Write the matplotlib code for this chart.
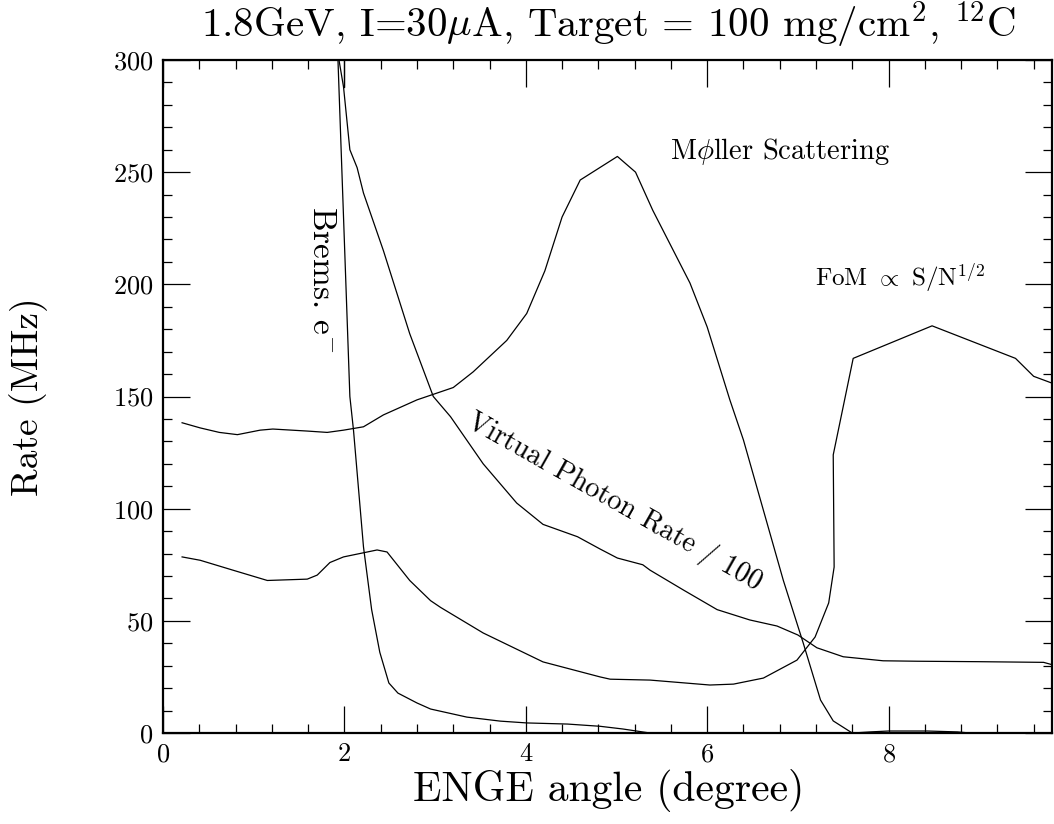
import matplotlib
matplotlib.use("Agg")
import matplotlib.pyplot as plt

# Rates vs ENGE angle
brems_x = [1.92, 2.06, 2.10, 2.21, 2.30, 2.39, 2.49, 2.59, 2.80, 2.95, 3.35, 3.72,
           4.01, 4.46, 4.82, 5.07, 5.37, 6.0, 7.0, 8.0, 9.0, 9.8]
brems_y = [310, 150, 135, 83, 55, 36, 22.3, 17.8, 13.4, 10.7, 7.1, 5.3,
           4.5, 4.0, 3.0, 1.8, 0, 0, 0, 0, 0, 0]

vphoton_x = [1.94, 1.99, 2.06, 2.14, 2.21, 2.43, 2.72, 2.98, 3.17, 3.53, 3.90, 4.19,
             4.57, 4.82, 5.01, 5.29, 5.37, 5.74, 6.11, 6.47, 6.77, 7.00, 7.21,
             7.50, 7.94, 8.32, 9.00, 9.71, 9.80]
vphoton_y = [300, 288, 260, 252, 240.7, 215, 178, 150, 141, 120, 102.5, 93,
             87.5, 82, 78, 75, 72.6, 63.7, 55, 50.4, 47.7, 43.7, 38,
             34, 32.2, 32, 31.8, 31.5, 30.5]
spike_x = [1.99, 1.99]
spike_y = [288, 310]

moller_x = [0.21, 0.41, 0.62, 0.82, 1.07, 1.21, 1.59, 1.81, 1.99, 2.21, 2.43, 2.80,
            3.20, 3.42, 3.79, 4.01, 4.21, 4.40, 4.60, 5.01, 5.21, 5.40, 5.81, 6.00,
            6.25, 6.40, 6.84, 7.06, 7.25, 7.39, 7.60, 7.80, 8.00, 8.43, 8.76, 8.90, 9.80]
moller_y = [138.3, 136, 134, 133, 135, 135.5, 134.6, 134, 135, 136.5, 141.8, 148.5,
            154, 161, 175, 187, 206, 230, 246.5, 257, 250, 233, 200.6, 181,
            148.5, 130.6, 68, 40, 14.7, 5.4, 0, 0.5, 0.9, 0.9, 0.5, 0, 0]

fom_x = [0.21, 0.41, 0.77, 1.15, 1.59, 1.70, 1.84, 1.99, 2.36, 2.47, 2.72, 2.95, 3.06,
         3.53, 4.19, 4.82, 4.93, 5.37, 6.03, 6.29, 6.62, 6.99, 7.19, 7.34, 7.40,
         7.39, 7.61, 8.48, 9.40, 9.60, 9.80]
fom_y = [78.5, 77, 72.6, 68, 68.6, 70.4, 76, 78.5, 81.6, 80.7, 68, 59, 56,
         44.6, 31.7, 25, 24, 23.6, 21.4, 21.8, 24.5, 32.5, 42.8, 58, 74,
         124, 167, 181.5, 167, 159, 156]

plt.rcParams["font.family"] = ["cmr10", "DejaVu Serif"]
plt.rcParams["mathtext.fontset"] = "cm"
plt.rcParams["axes.formatter.use_mathtext"] = True

fig = plt.figure(figsize=(10.54, 8.24), dpi=100)
ax = fig.add_axes([0.1547, 0.1104, 0.8432, 0.8168])

lw = 0.9
for xs, ys in [(brems_x, brems_y), (vphoton_x, vphoton_y), (spike_x, spike_y),
               (moller_x, moller_y), (fom_x, fom_y)]:
    ax.plot(xs, ys, color="black", lw=lw)

ax.set_xlim(0, 9.8)
ax.set_ylim(0, 300)
ax.set_xticks([0, 2, 4, 6, 8])
ax.set_xticks([i * 0.4 for i in range(25)], minor=True)
ax.set_yticks(range(0, 301, 50))
ax.set_yticks(range(0, 301, 10), minor=True)
ax.tick_params(which="both", direction="in", top=True, right=True, width=0.9,
               labelsize=19)
ax.tick_params(which="major", length=19.5, pad=7)
ax.tick_params(which="minor", length=6.5)
for s in ax.spines.values():
    s.set_linewidth(1.6)

# annotations
ax.text(6.8, 259, r"M$\phi$ller Scattering", fontsize=20.5, ha="center", va="center")
ax.text(8.13, 203, r"FoM $\propto$ S/N$^{1/2}$", fontsize=18, ha="center", va="center")
ax.text(4.98, 103, "Virtual Photon Rate / 100", fontsize=20.5, rotation=-29.5,
        ha="center", va="center", rotation_mode="anchor")
ax.text(1.75, 202, r"Brems. e$^{-}$", fontsize=24, rotation=-90,
        ha="center", va="center")

fig.text(608 / 1054, 1 - 25 / 824,
         r"1.8GeV, I=30$\mu$A, Target = 100 mg/cm$^2$, $^{12}$C",
         fontsize=29.5, ha="center", va="center")
fig.text(609 / 1054, 1 - 790 / 824, "ENGE angle (degree)", fontsize=30,
         ha="center", va="center")
fig.text(29 / 1054, 1 - 397 / 824, "Rate (MHz)", fontsize=27, rotation=90,
         ha="center", va="center")

fig.savefig("out.png", dpi=100)
